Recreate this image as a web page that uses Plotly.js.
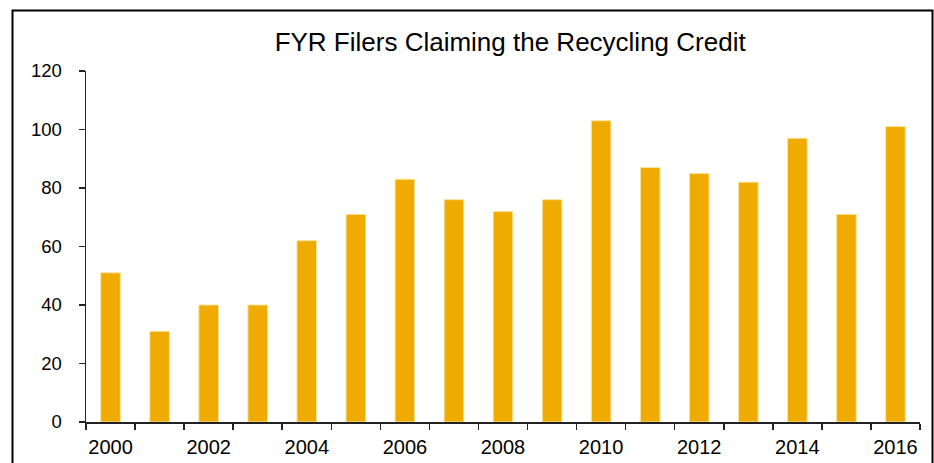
<!DOCTYPE html>
<html>
<head>
<meta charset="utf-8">
<script src="https://cdn.plot.ly/plotly-3.0.1.min.js"></script>
<style>
  html, body { margin: 0; padding: 0; background: #fff; }
  #chart { width: 934px; height: 463px; }
</style>
</head>
<body>
<div id="chart"></div>
<script>
const years = [2000, 2001, 2002, 2003, 2004, 2005, 2006, 2007, 2008, 2009, 2010, 2011, 2012, 2013, 2014, 2015, 2016];
const filers = [51, 31, 40, 40, 62, 71, 83, 76, 72, 76, 103, 87, 85, 82, 97, 71, 101];
const labelYears = [2000, 2002, 2004, 2006, 2008, 2010, 2012, 2014, 2016];
const yTicks = [0, 20, 40, 60, 80, 100, 120];
const chartTitle = 'FYR Filers Claiming the Recycling Credit';

const W = 934, H = 463;
const m = { l: 86, r: 14, t: 71, b: 41 };
const pw = W - m.l - m.r, ph = H - m.t - m.b;
const px = x => (x - m.l) / pw;
const py = y => (H - m.b - y) / ph;
const FF = 'Liberation Sans, Arial, sans-serif';

const trace = {
  type: 'bar',
  x: years,
  y: filers,
  width: 0.4,
  marker: { color: '#F0AB00', line: { color: '#FBE3A0', width: 1 } },
  hoverinfo: 'x+y'
};

const layout = {
  width: W, height: H,
  margin: m,
  paper_bgcolor: '#fff',
  plot_bgcolor: '#fff',
  showlegend: false,
  font: { family: FF, color: '#000', size: 18 },
  title: {
    text: chartTitle,
    font: { family: FF, size: 26, color: '#000' },
    x: 475 / W, xanchor: 'center', xref: 'paper',
    y: 1 - 42 / H, yanchor: 'middle', yref: 'container'
  },
  xaxis: {
    range: [years[0] - 0.5, years[years.length - 1] + 0.5],
    tickvals: labelYears,
    ticktext: labelYears.map(String),
    ticks: '',
    showgrid: false,
    zeroline: false,
    showline: true,
    linecolor: '#222',
    linewidth: 1.5,
    tickfont: { size: 20, family: FF, color: '#000' },
    ticklabelstandoff: 6,
    minor: {
      ticks: 'outside',
      tick0: years[0] - 0.5,
      dtick: 1,
      ticklen: 6,
      tickwidth: 1.5,
      tickcolor: '#222',
      showgrid: false
    },
    fixedrange: true
  },
  yaxis: {
    range: [0, 120],
    tickvals: yTicks,
    ticks: 'outside',
    ticklen: 6,
    tickwidth: 1.5,
    tickcolor: '#222',
    showgrid: false,
    zeroline: false,
    showline: true,
    linecolor: '#222',
    linewidth: 1.5,
    tickfont: { size: 18.5, family: FF, color: '#000' },
    ticklabelstandoff: 13,
    fixedrange: true
  },
  shapes: [{
    type: 'rect', xref: 'paper', yref: 'paper',
    x0: px(12.5), x1: px(932.5), y0: py(466), y1: py(10.5),
    line: { color: '#000', width: 2 }, fillcolor: 'rgba(0,0,0,0)', layer: 'above'
  }]
};

Plotly.newPlot('chart', [trace], layout, { displayModeBar: false, staticPlot: true });
</script>
</body>
</html>
